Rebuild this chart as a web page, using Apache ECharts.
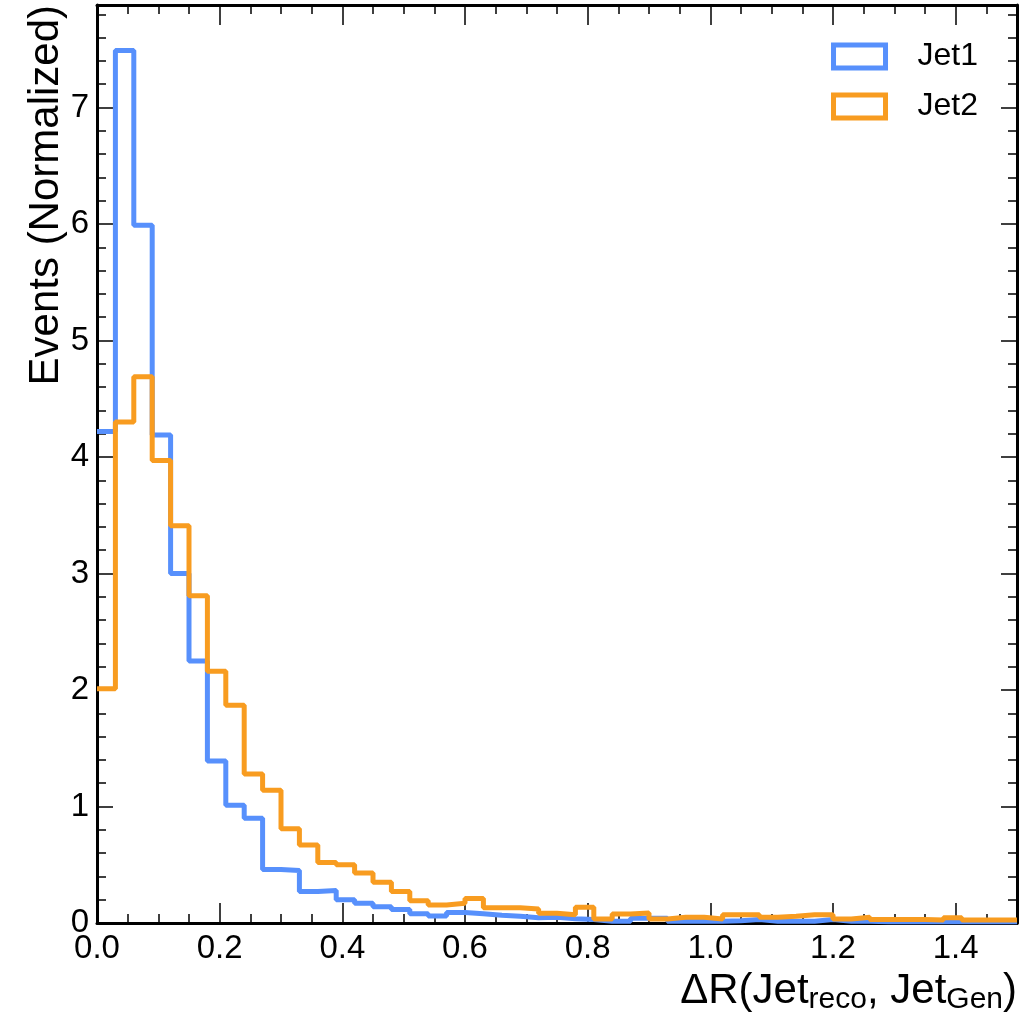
<!DOCTYPE html>
<html>
<head>
<meta charset="utf-8">
<script src="https://cdn.jsdelivr.net/npm/echarts@6/dist/echarts.min.js"></script>
<style>
  html, body { margin: 0; padding: 0; background: #fff; }
  #chart { width: 1020px; height: 1021px; }
</style>
</head>
<body>
<div id="chart"></div>
<script>
// ---- data ----
const binWidth = 0.03;
const seriesNames = ['Jet1', 'Jet2'];
const jet1 = [4.22, 7.49, 5.99, 4.19, 3.00, 2.25, 1.39, 1.01, 0.90, 0.46,
              0.45, 0.27, 0.28, 0.20, 0.17, 0.14, 0.115, 0.08, 0.06, 0.09,
              0.08, 0.066, 0.057, 0.045, 0.05, 0.037, 0.03, 0.015, 0.015, 0.04,
              0.04, 0.015, 0.015, 0.015, 0.02, 0.03, 0.015, 0.015, 0.015, 0.03,
              0.015, 0.015, 0.01, 0.01, 0.01, 0.01, 0.01, 0.01, 0.01, 0.01];
const jet2 = [2.01, 4.30, 4.69, 3.97, 3.41, 2.81, 2.16, 1.87, 1.28, 1.14,
              0.81, 0.67, 0.52, 0.50, 0.43, 0.35, 0.27, 0.19, 0.155, 0.17,
              0.21, 0.13, 0.13, 0.12, 0.083, 0.07, 0.135, 0.034, 0.077, 0.086,
              0.034, 0.05, 0.05, 0.034, 0.07, 0.07, 0.05, 0.057, 0.07, 0.07,
              0.034, 0.05, 0.03, 0.03, 0.03, 0.025, 0.045, 0.025, 0.025, 0.025];
const xTickLabels = ['0.0', '0.2', '0.4', '0.6', '0.8', '1.0', '1.2', '1.4'];
const yTickLabels = ['0', '1', '2', '3', '4', '5', '6', '7'];

const colors = ['#5790fc', '#f89c20'];
const FONT = 'Liberation Sans';

// histogram -> step points (left edges + closing right edge)
function stepData(vals) {
  const pts = vals.map((v, i) => [+(i * binWidth).toFixed(4), v]);
  pts.push([+(vals.length * binWidth).toFixed(4), vals[vals.length - 1]]);
  return pts;
}

const X_MIN = 0, X_MAX = 1.5, Y_MIN = 0, Y_MAX = 7.88;

function xAxisDef(pos, major, withLabel) {
  return {
    type: 'value', position: pos, min: X_MIN, max: X_MAX,
    interval: major ? 0.2 : 0.05,
    axisLine: { show: major, onZero: false, lineStyle: { color: '#000', width: 3 } },
    axisTick: { show: true, inside: true, length: major ? 20 : 9, lineStyle: { color: '#000', width: 1.5 } },
    axisLabel: withLabel ? {
      show: true, fontFamily: FONT, fontSize: 33, color: '#000', margin: 9,
      showMaxLabel: false,
      formatter: v => { const i = Math.round(v / 0.2); return Math.abs(v - i * 0.2) < 1e-6 ? xTickLabels[i] : ''; }
    } : { show: false },
    splitLine: { show: false }
  };
}
function yAxisDef(pos, major, withLabel) {
  return {
    type: 'value', position: pos, min: Y_MIN, max: Y_MAX,
    interval: major ? 1 : 0.2,
    axisLine: { show: major, onZero: false, lineStyle: { color: '#000', width: 3 } },
    axisTick: { show: true, inside: true, length: major ? 16 : 9, lineStyle: { color: '#000', width: 1.5 } },
    axisLabel: withLabel ? {
      show: true, fontFamily: FONT, fontSize: 33, color: '#000', margin: 8,
      showMaxLabel: false,
      formatter: v => { const i = Math.round(v); return Math.abs(v - i) < 1e-6 ? yTickLabels[i] : ''; }
    } : { show: false },
    splitLine: { show: false }
  };
}

const xMain = xAxisDef('bottom', true, true);
xMain.name = '{m|ΔR(Jet}{s|reco}{m|, Jet}{s|Gen}{m|)}';
xMain.nameLocation = 'end';
xMain.nameGap = 0;
xMain.nameTextStyle = {
  align: 'right', verticalAlign: 'top', padding: [44, 0, 0, 0],
  rich: {
    m: { fontFamily: FONT, fontSize: 42, color: '#000', lineHeight: 48 },
    s: { fontFamily: FONT, fontSize: 30, color: '#000', lineHeight: 18, verticalAlign: 'bottom' }
  }
};
const yMain = yAxisDef('left', true, true);
yMain.name = 'Events (Normalized)';
yMain.nameLocation = 'end';
yMain.nameGap = 0;
yMain.nameRotate = 90;
yMain.nameTextStyle = {
  fontFamily: FONT, fontSize: 42, color: '#000',
  align: 'right', verticalAlign: 'bottom', padding: [0, 0, 30, 0]
};

const option = {
  animation: false,
  backgroundColor: '#fff',
  grid: { left: 97, right: 2, top: 5, bottom: 98, containLabel: false },
  legend: {
    orient: 'vertical', right: 37, top: 35,
    icon: 'rect', itemWidth: 52, itemHeight: 23, itemGap: 17,
    itemStyle: { color: '#fff', borderWidth: 5 },
    textStyle: { fontFamily: FONT, fontSize: 32, color: '#000', lineHeight: 23, padding: [10, 0, 0, 27] },
    data: [
      { name: seriesNames[0], itemStyle: { color: '#fff', borderColor: colors[0], borderWidth: 5 } },
      { name: seriesNames[1], itemStyle: { color: '#fff', borderColor: colors[1], borderWidth: 5 } }
    ]
  },
  xAxis: [xMain, xAxisDef('bottom', false, false), xAxisDef('top', true, false), xAxisDef('top', false, false)],
  yAxis: [yMain, yAxisDef('left', false, false), yAxisDef('right', true, false), yAxisDef('right', false, false)],
  series: [
    {
      name: seriesNames[0], type: 'line', step: 'end', xAxisIndex: 0, yAxisIndex: 0,
      data: stepData(jet1), showSymbol: false, symbol: 'none',
      lineStyle: { color: colors[0], width: 5 }, itemStyle: { color: colors[0] }
    },
    {
      name: seriesNames[1], type: 'line', step: 'end', xAxisIndex: 0, yAxisIndex: 0,
      data: stepData(jet2), showSymbol: false, symbol: 'none',
      lineStyle: { color: colors[1], width: 5 }, itemStyle: { color: colors[1] }
    }
  ]
};

const chart = echarts.init(document.getElementById('chart'), null, { renderer: 'canvas' });
chart.setOption(option);
</script>
</body>
</html>
